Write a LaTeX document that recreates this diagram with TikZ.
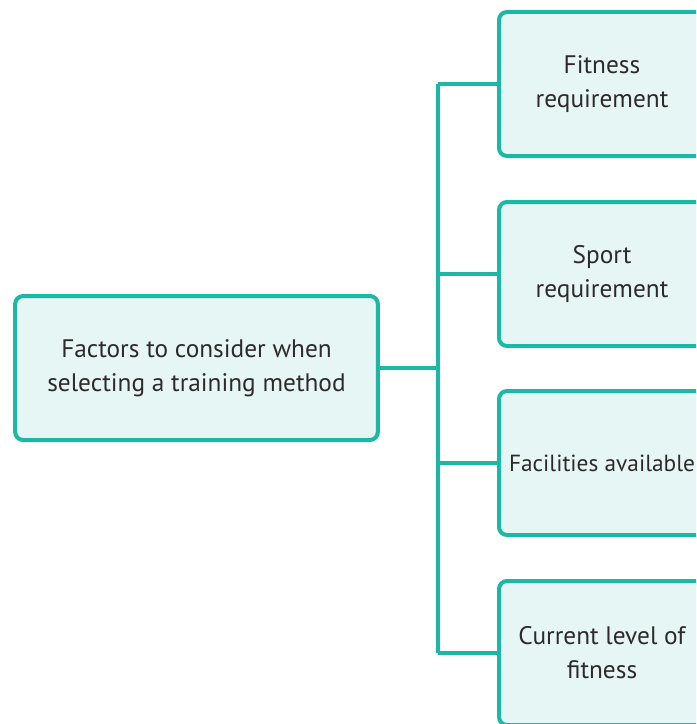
\documentclass[tikz,border=0pt]{standalone}
\usepackage{fontspec}
\setmainfont{PT Sans}
\usepackage{tikz}
\usetikzlibrary{positioning,calc}
\definecolor{teal1}{HTML}{1BB9A5}
\definecolor{fillbox}{HTML}{E6F6F4}
\definecolor{txt}{HTML}{2E2A2C}

\begin{document}
\begin{tikzpicture}
[x=0.75pt, y=-0.75pt, line width=3pt,
factorbox/.style={draw=teal1, fill=fillbox, rounded corners=6pt, align=center,
  text=txt, font=\fontsize{19}{25.5}\selectfont, inner sep=0pt},
mainbox/.style={factorbox, minimum width=272pt, minimum height=108pt},
sidebox/.style={factorbox, minimum width=154.5pt, minimum height=108pt},
link/.style={draw=teal1, line width=3pt}]
\useasboundingbox (0,0) rectangle (696,724);
\clip (0,0) rectangle (696,724);
\node (main) at (196.5,368)[mainbox] {Factors to consider when\\selecting a training method};
\node (f1) at (602,84)[sidebox] {Fitness\\requirement};
\node (f2) at (602,274)[sidebox] {Sport\\requirement};
\node (f3) at (602,463)[sidebox, font=\fontsize{17.5}{25.5}\selectfont] {Facilities available};
\node (f4) at (602,653)[sidebox] {Current level of\\fitness};

\coordinate (top) at (438,84);
\coordinate (bot) at (438,653);

\draw[link] (main.east) -- (main.east -| top);
\draw[link] (top) -- (bot);
\draw[link] (top) -- (f1.west);
\draw[link] (f2.west -| top) -- (f2.west);
\draw[link] (f3.west -| top) -- (f3.west);
\draw[link] (bot) -- (f4.west);
\end{tikzpicture}
\end{document}
